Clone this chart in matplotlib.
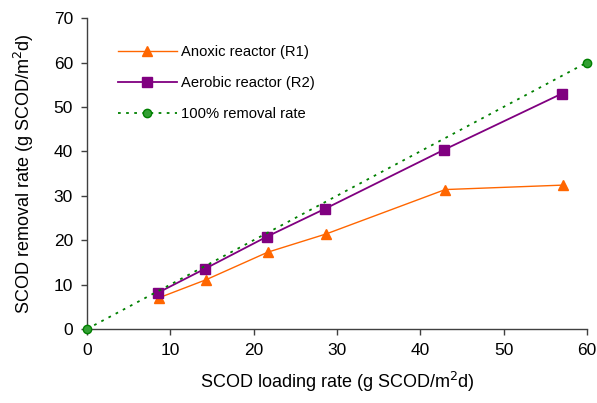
import matplotlib
matplotlib.use("Agg")
import matplotlib.pyplot as plt

plt.rcParams['font.family'] = ['Liberation Sans', 'DejaVu Sans']

x_r1 = [8.6, 14.3, 21.7, 28.7, 43.0, 57.1]
y_r1 = [7.0, 11.1, 17.3, 21.4, 31.4, 32.4]
x_r2 = [8.55, 14.2, 21.6, 28.6, 42.9, 57.0]
y_r2 = [8.2, 13.6, 20.8, 27.1, 40.4, 53.0]
x_ref = [0, 60]
y_ref = [0, 60]
xticks = [0, 10, 20, 30, 40, 50, 60]
yticks = [0, 10, 20, 30, 40, 50, 60, 70]

fig = plt.figure(figsize=(5.97, 4.03), dpi=100)
ax = fig.add_axes([0.1457, 0.1836, 0.8373, 0.7714])

ax.plot(x_r1, y_r1, color='#FF6600', lw=1.0, marker='^', ms=7,
        markerfacecolor='#FF6600', markeredgecolor='#FF6600', label='Anoxic reactor (R1)', zorder=3)
ax.plot(x_r2, y_r2, color='#800080', lw=1.3, marker='s', ms=7,
        markerfacecolor='#800080', markeredgecolor='#800080', label='Aerobic reactor (R2)', zorder=4)
ax.plot(x_ref, y_ref, color='#008000', lw=1.3, ls=(0, (1.5, 3)), marker='o', ms=6,
        markerfacecolor='#33A033', markeredgecolor='#008000', label='100% removal rate', zorder=5, clip_on=False)

ax.set_xlim(0, 60)
ax.set_ylim(0, 70)
ax.set_xticks(xticks)
ax.set_yticks(yticks)
for s in ['top', 'right']:
    ax.spines[s].set_visible(False)
for s in ['left', 'bottom']:
    ax.spines[s].set_color('#404040')
    ax.spines[s].set_linewidth(1.0)
ax.tick_params(direction='out', length=4, width=1, colors='#404040', labelcolor='black', labelsize=12.5, pad=6)

ax.set_xlabel('SCOD loading rate (g SCOD/m$^2$d)', fontsize=13, labelpad=9)
ax.set_ylabel('SCOD removal rate (g SCOD/m$^2$d)', fontsize=13, labelpad=13)

ax.legend(loc='upper left', bbox_to_anchor=(0.035, 0.955), frameon=False, fontsize=10.6,
          handlelength=4.0, handletextpad=0.3, labelspacing=1.15)

fig.savefig('out.png', dpi=100)
